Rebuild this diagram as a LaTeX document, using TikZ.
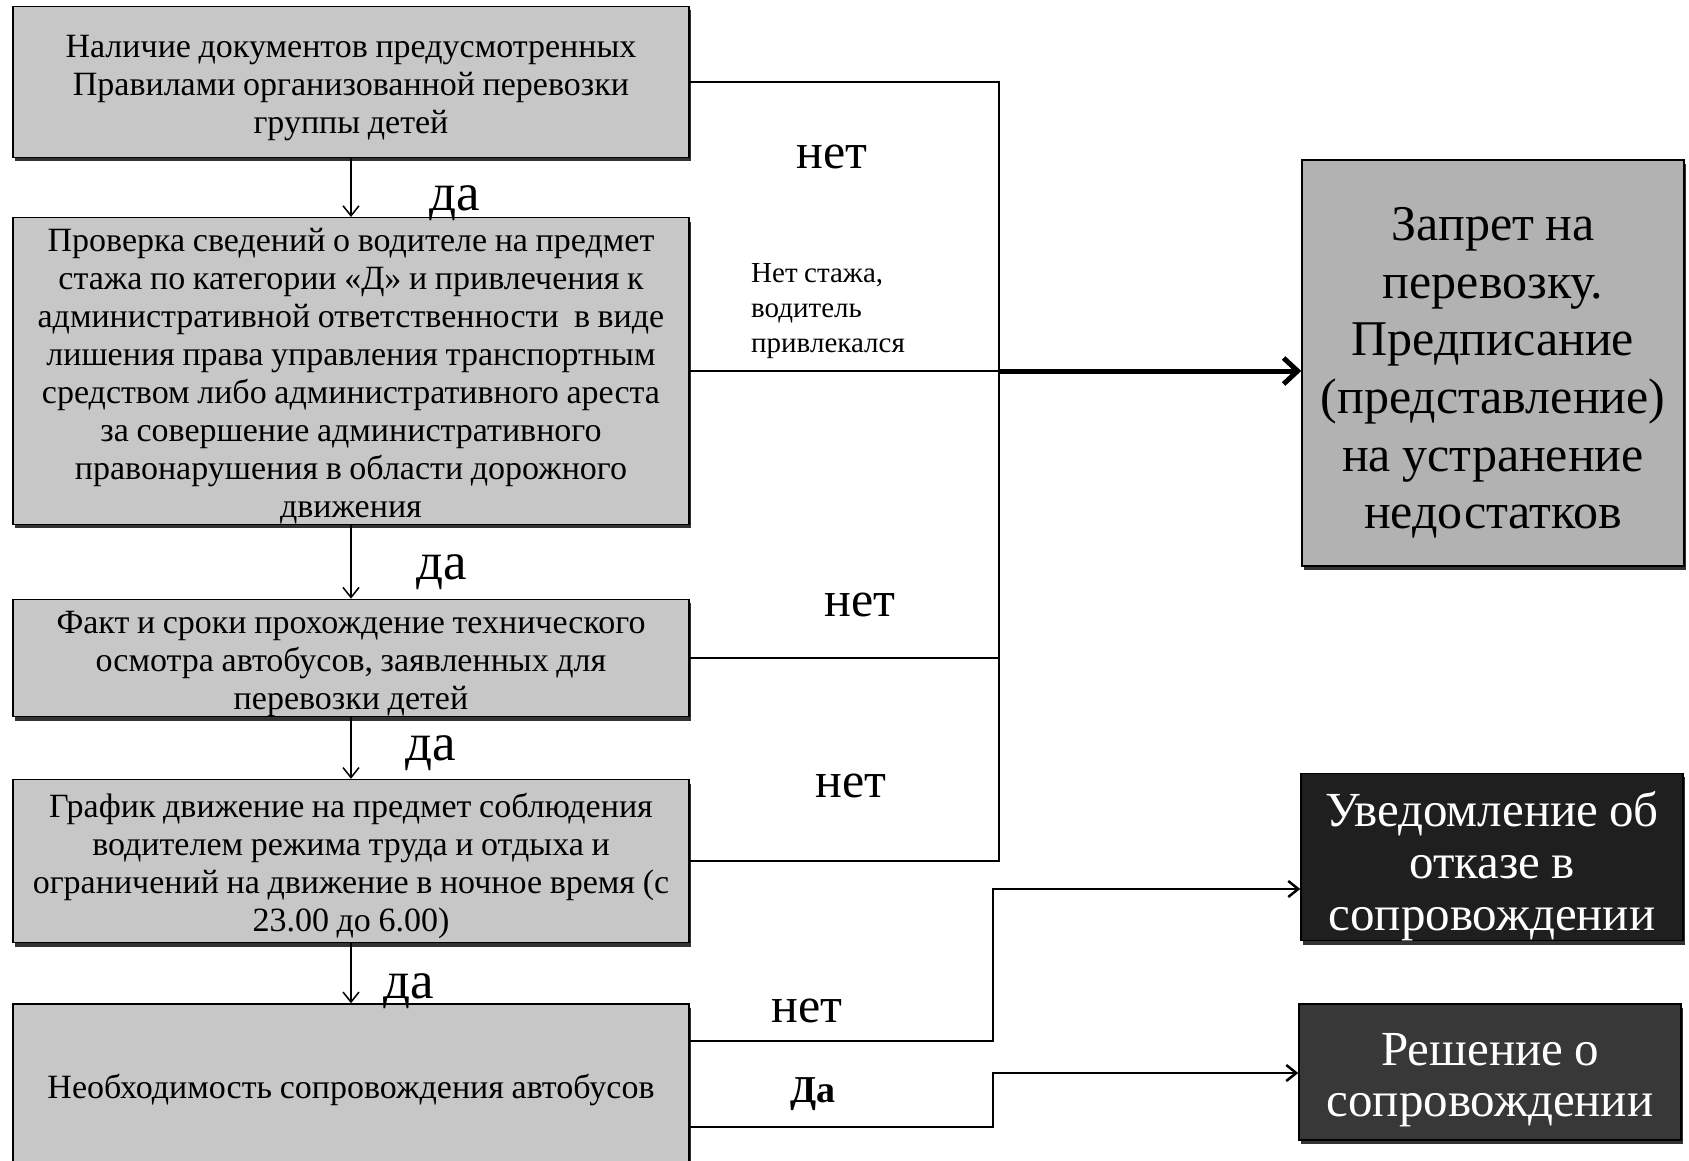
\documentclass[tikz,border=0pt]{standalone}
\usepackage{fontspec}
\setmainfont[WordSpace=0.9]{Liberation Serif}
\usetikzlibrary{arrows.meta,shadows}
\tikzset{
  leftbox/.style={draw=black, line width=1.5pt, fill=black!22, minimum width=676pt,
    text width=670pt, align=flush center, inner sep=0pt, font=\fontsize{34}{38}\selectfont,
    execute at begin node={\rule{0pt}{34pt}},
    drop shadow={shadow xshift=2pt, shadow yshift=-4pt, fill=black!80, opacity=1}},
  rightbox/.style={draw=black, line width=1.5pt, minimum width=382pt, text width=376pt,
    align=flush center, inner sep=0pt,
    drop shadow={shadow xshift=2pt, shadow yshift=-4pt, fill=black!80, opacity=1}},
  link/.style={draw=black, line width=2.5pt},
  bigarrow/.style={draw=black, line width=5pt, -{Straight Barb[length=14pt,width=26pt]}},
  lbl/.style={font=\fontsize{50}{52}\selectfont, inner sep=0pt},
  note/.style={font=\fontsize{29}{35}\selectfont, align=left, inner sep=0pt}
}
\begin{document}
\begin{tikzpicture}[x=1pt, y=-1pt, >={Straight Barb[length=10pt,width=16pt]}]
\useasboundingbox (0,0) rectangle (1689,1161);
\fill[white] (0,0) rectangle (1689,1161);

\node[leftbox, minimum height=151pt] (b1) at (351,82)
  {Наличие документов предусмотренных\\ Правилами организованной перевозки\\ группы детей};
\node[leftbox, minimum height=300pt] (b2) at (351,371)
  {Проверка сведений о водителе на предмет\\ стажа по категории «Д» и привлечения к\\
   административной ответственности \ в виде\\ лишения права управления транспортным\\
   средством либо административного ареста\\ за совершение административного\\
   правонарушения в области дорожного\\ движения};
\node[leftbox, minimum height=117pt] (b3) at (351,658)
  {Факт и сроки прохождение технического\\ осмотра автобусов, заявленных для\\ перевозки детей};
\node[leftbox, minimum height=163pt] (b4) at (351,861)
  {График движение на предмет соблюдения\\ водителем режима труда и отдыха и\\
   ограничений на движение в ночное время (с\\ 23.00 до 6.00)};
\node[leftbox, minimum height=162pt] (b5) at (351,1085)
  {Необходимость сопровождения автобусов};

\node[rightbox, fill=black!30, minimum height=406pt, font=\fontsize{50}{57.7}\selectfont] (r1) at (1493,363)
  {\rule{0pt}{53pt}Запрет на\\ перевозку.\\ Предписание\\ (представление)\\ на устранение\\ недостатков};
\node[rightbox, fill=black!88, text=white, minimum height=167pt, font=\fontsize{49}{52}\selectfont] (r2) at (1492,857)
  {\rule{0pt}{53pt}Уведомление об\\ отказе в\\ сопровождении};
\node[rightbox, fill=black!78, text=white, minimum height=136pt, font=\fontsize{49}{51}\selectfont] (r3) at (1490,1072)
  {\rule{0pt}{48pt}Решение о\\ сопровождении};

\draw[line width=1.5pt,->] (b1) -- (b2);
\draw[line width=1.5pt,->] (b2) -- (b3);
\draw[line width=1.5pt,->] (b3) -- (b4);
\draw[line width=1.5pt,->] (b4) -- (b5);

\coordinate (bus) at (999,0);
\draw[link] (b1.east) -- (b1.east -| bus) -- (b4.east -| bus) -- (b4.east);
\draw[link] (b2.east) -- (b2.east -| bus);
\draw[link] (b3.east) -- (b3.east -| bus);
\draw[bigarrow] (b2.east -| bus) -- (b2.east -| r1.west);

\coordinate (e1) at (993,889);
\coordinate (e2) at (993,1073);
\draw[link,->] ([yshift=44pt]b5.east) -| (e1) -- (e1 -| r2.west);
\draw[link,->] ([yshift=-42pt]b5.east) -| (e2) -- (e2 -| r3.west);

\node[lbl, font=\fontsize{53}{54}\selectfont] (d1) at (455,203) {да};
\node[lbl, font=\fontsize{53}{54}\selectfont] (d2) at (442,572) {да};
\node[lbl, font=\fontsize{53}{54}\selectfont] (d3) at (431,753) {да};
\node[lbl, font=\fontsize{53}{54}\selectfont] (d4) at (409,991) {да};
\node[lbl] (n1) at (832,157) {нет};
\node[lbl] (n3) at (860,605) {нет};
\node[lbl] (n4) at (851,786) {нет};
\node[lbl] (n5) at (807,1011) {нет};
\node[lbl, font=\fontsize{38}{40}\bfseries] (y5) at (813,1094) {Да};
\node[note, anchor=west] (n2) at (751,311) {Нет стажа,\\ водитель\\ привлекался};
\end{tikzpicture}
\end{document}
